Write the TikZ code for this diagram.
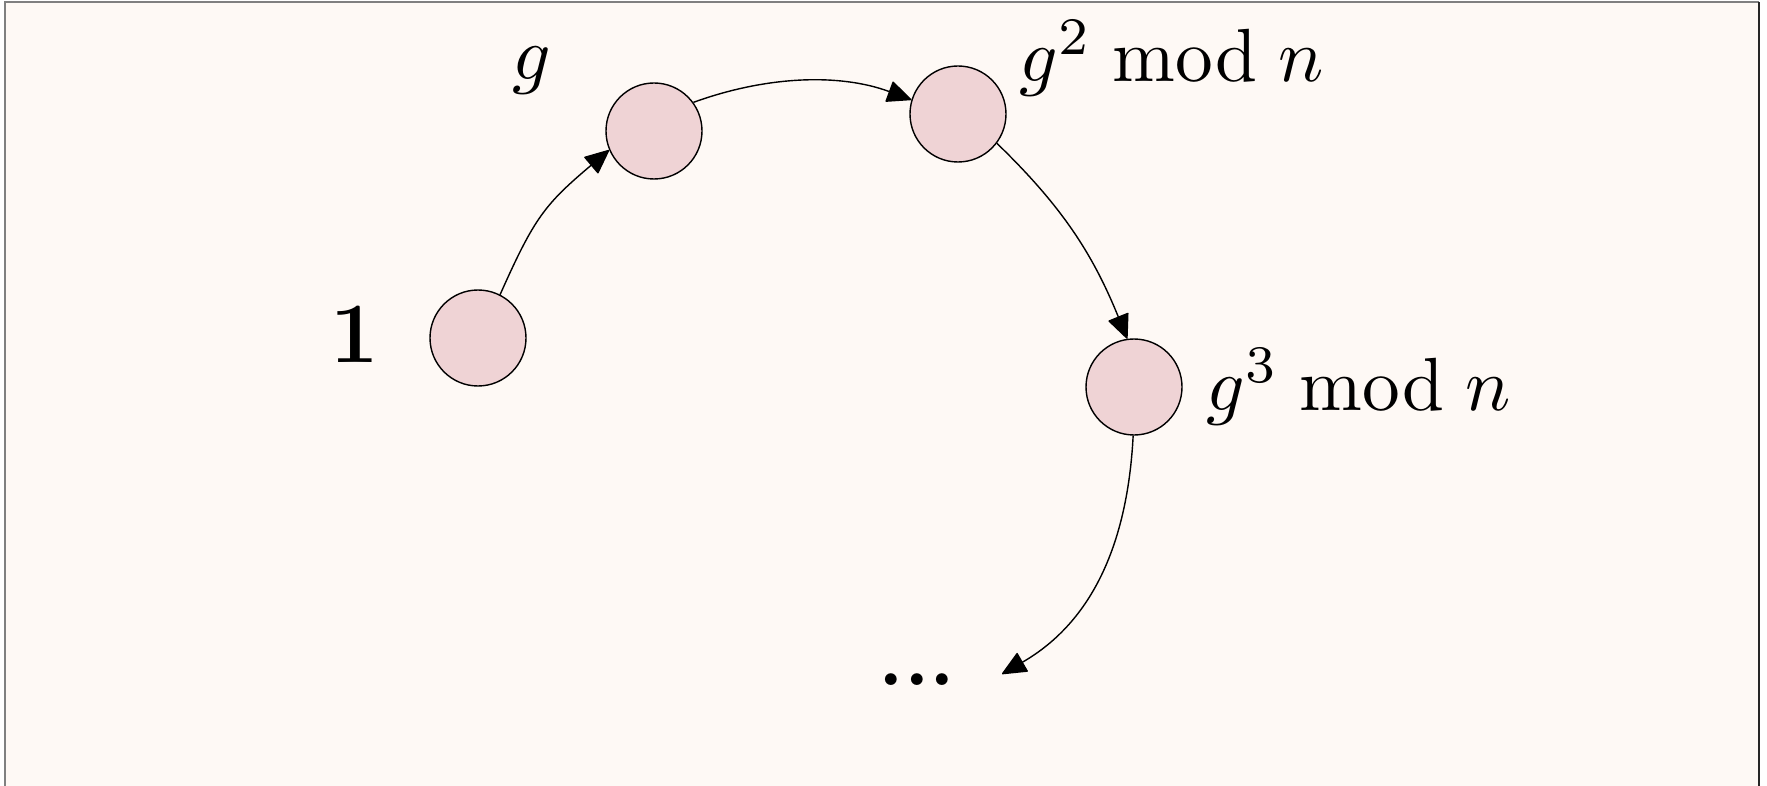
\documentclass[tikz,border=0pt]{standalone}
\usetikzlibrary{arrows.meta}
\definecolor{bgcol}{RGB}{254,249,245}
\definecolor{nodecol}{RGB}{239,211,213}
\begin{document}
\begin{tikzpicture}[x=0.5pt,y=-0.5pt,
  elem/.style={circle,draw=black,line width=0.7pt,fill=nodecol,minimum size=48pt,inner sep=0pt},
  lab/.style={inner sep=0pt,scale=3.77,font=\fontsize{10}{12}\selectfont},
  boldlab/.style={inner sep=0pt,font=\fontsize{41}{49}\selectfont\bfseries},
  onelab/.style={inner sep=0pt,font=\fontsize{43}{51}\selectfont\bfseries},
  conn/.style={line width=0.7pt,-{Triangle[length=12.5pt,width=11pt,round]}}]
\useasboundingbox (0,0) rectangle (1767,786);
\fill[bgcol] (5,2) rectangle (1759,786);
\draw[gray,line width=0.8pt] (5,786) -- (5,2) -- (1759,2);
\draw[black!85,line width=1pt] (1759,2) -- (1759,786);

\node[elem] (n1) at (478,338) {};
\node[elem] (ng) at (654,131) {};
\node[elem] (ng2) at (958,114) {};
\node[elem] (ng3) at (1134,387) {};

\node[onelab,anchor=base] (l1) at (355,362) {1};
\node[lab,anchor=base] (lg) at (532,80) {$g$};
\node[lab,anchor=base west] (lg2) at (1018,82) {$g^2 \bmod n$};
\node[lab,anchor=base west] (lg3) at (1205,410) {$g^3 \bmod n$};
\node[boldlab,anchor=base] (dots) at (917,685) {...};
\coordinate (dend) at (1002,674);

\draw[conn] (n1.63) .. controls (534.4,217.5) and (544.7,204.5) .. (ng.203);
\draw[conn] (ng.36) .. controls (766,76) and (839,73) .. (ng2.163);
\draw[conn] (ng2.323) .. controls (1062.5,206.8) and (1092.8,254.2) .. (ng3.98);
\draw[conn] (ng3.269) .. controls (1127.7,540.9) and (1093.8,621) .. (dend);
\end{tikzpicture}
\end{document}
